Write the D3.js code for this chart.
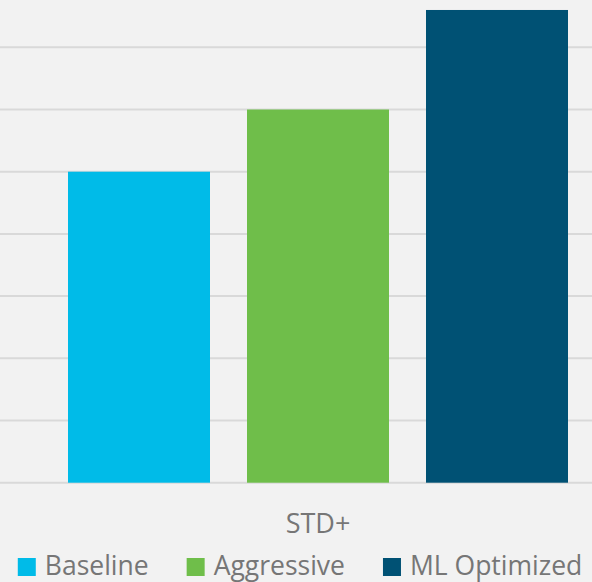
<!DOCTYPE html>
<html>
<head>
<meta charset="utf-8">
<script src="https://cdn.jsdelivr.net/npm/d3@7"></script>
<style>
  html, body { margin: 0; padding: 0; background: #f2f2f2; }
  svg { display: block; }
  text { font-family: "Open Sans", sans-serif; fill: #767676; }
</style>
</head>
<body>
<div id="chart"></div>
<script>
// data
const categories = ['STD+'];
const seriesNames = ['Baseline', 'Aggressive', 'ML Optimized'];
const seriesValues = [5, 6, 7.6];
const seriesColors = ['#00bbe8', '#6fbe4a', '#005174'];
const gridTicks = [0, 1, 2, 3, 4, 5, 6, 7, 8];

const width = 592, height = 582;

const svg = d3.select('#chart')
  .append('svg')
  .attr('width', width)
  .attr('height', height);

svg.append('rect')
  .attr('width', width)
  .attr('height', height)
  .attr('fill', '#f2f2f2');

// y scale - plot top is cut off above the picture
const y = d3.scaleLinear()
  .domain([0, 8])
  .range([482.7, 482.7 - 8 * 62.2]);

// bars inside the one category
const x = d3.scaleBand()
  .domain(seriesNames)
  .range([68, 568])
  .paddingInner(37 / 179)
  .paddingOuter(0);

// gridlines
svg.append('g')
  .selectAll('line')
  .data(gridTicks)
  .enter()
  .append('line')
  .attr('x1', 0)
  .attr('x2', width)
  .attr('y1', d => y(d))
  .attr('y2', d => y(d))
  .attr('stroke', '#d9d9d9')
  .attr('stroke-width', 2);

// Bars
svg.append('g')
  .selectAll('rect')
  .data(seriesNames)
  .enter()
  .append('rect')
  .attr('x', d => x(d))
  .attr('y', (d, i) => y(seriesValues[i]))
  .attr('width', x.bandwidth())
  .attr('height', (d, i) => y(0) - y(seriesValues[i]))
  .attr('fill', (d, i) => seriesColors[i]);

// category label
svg.append('text')
  .attr('x', 318)
  .attr('y', 533)
  .attr('text-anchor', 'middle')
  .style('font-size', '27px')
  .text(categories[0]);

// legend
const legend = svg.append('g');
const items = legend.selectAll('g')
  .data(seriesNames)
  .enter()
  .append('g');

items.append('rect')
  .attr('width', 18)
  .attr('height', 18)
  .attr('y', 558)
  .attr('fill', (d, i) => seriesColors[i]);

items.append('text')
  .attr('x', 27)
  .attr('y', 575)
  .style('font-size', '26.5px')
  .text(d => d);

// place items side by side, centred
const widths = [];
items.each(function () {
  widths.push(27 + d3.select(this).select('text').node().getComputedTextLength());
});
const spacing = 38;
const total = d3.sum(widths) + spacing * (widths.length - 1);
let cx = 300 - total / 2;
items.attr('transform', (d, i) => {
  const t = 'translate(' + cx + ',0)';
  cx += widths[i] + spacing;
  return t;
});
</script>
</body>
</html>
